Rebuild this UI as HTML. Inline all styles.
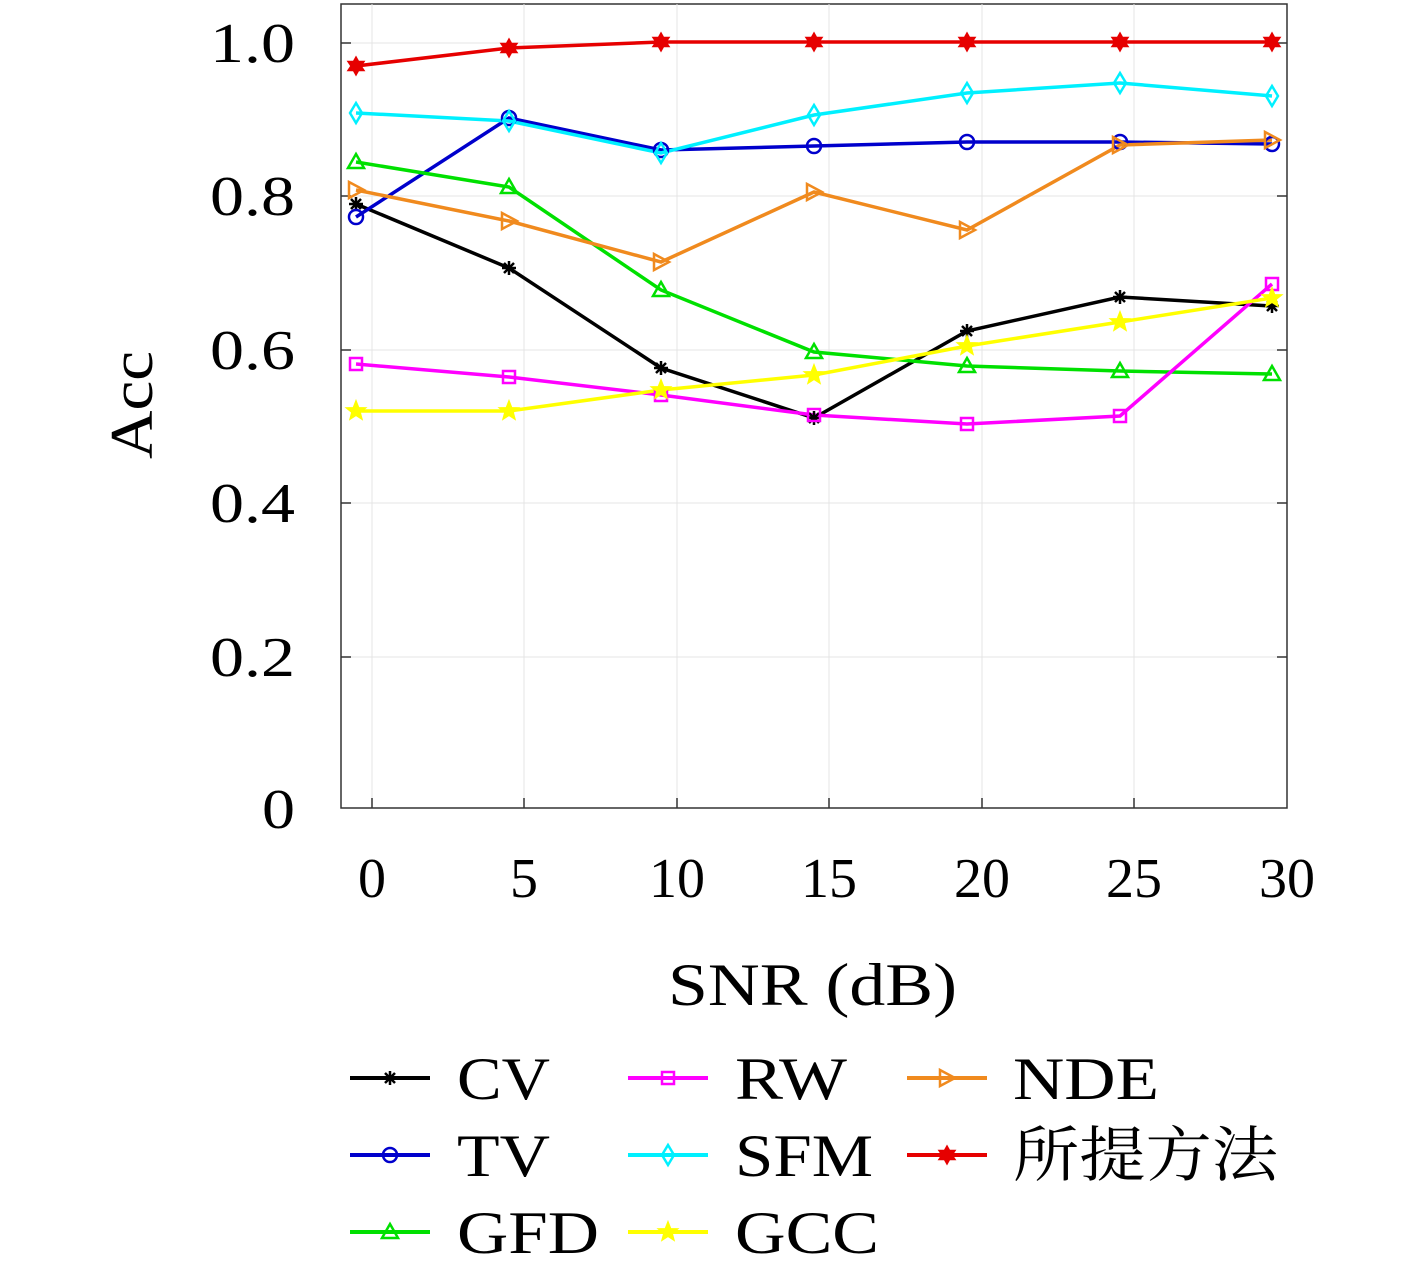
<!DOCTYPE html>
<html><head><meta charset="utf-8"><style>
html,body{margin:0;padding:0;background:#fff}
svg{display:block}
text{font-family:"Liberation Serif","Noto Serif CJK SC",serif;fill:#000}
</style></head><body>
<svg width="1417" height="1275" viewBox="0 0 1417 1275" xmlns="http://www.w3.org/2000/svg">
<defs>
<g id="m-star"><path d="M-7,0H7M0,-7V7M-5,-5L5,5M-5,5L5,-5" stroke-width="2.5"/></g>
<g id="m-circ"><circle r="7" fill="none" stroke-width="2.5"/></g>
<g id="m-tri"><path d="M0,-8L8,6H-8Z" fill="none" stroke-width="2.5"/></g>
<g id="m-sq"><rect x="-6" y="-6" width="12" height="12" fill="none" stroke-width="2.5"/></g>
<g id="m-dia"><path d="M0,-10L6,0L0,10L-6,0Z" fill="none" stroke-width="2.5"/></g>
<g id="m-pent"><path d="M0,-10L2.6,-3.3L9.5,-3.1L4.1,1.3L5.9,8.1L0,4.2L-5.9,8.1L-4.1,1.3L-9.5,-3.1L-2.6,-3.3Z" stroke-width="1.5"/></g>
<g id="m-right"><path d="M-7,-8L8,0L-7,8Z" fill="none" stroke-width="2.5"/></g>
<g id="m-hex"><path d="M0,-9L2.5,-4.5L8,-4.5L5,0L8,4.5L2.5,4.5L0,9L-2.5,4.5L-8,4.5L-5,0L-8,-4.5L-2.5,-4.5Z" stroke-width="1.5"/></g>
</defs>
<rect x="341" y="4" width="946" height="804" fill="#fff" stroke="#333" stroke-width="1.5"/>
<g stroke="#e4e4e4" stroke-width="1">
<line x1="524" y1="4" x2="524" y2="808"/><line x1="677" y1="4" x2="677" y2="808"/><line x1="829" y1="4" x2="829" y2="808"/><line x1="982" y1="4" x2="982" y2="808"/><line x1="1134" y1="4" x2="1134" y2="808"/><line x1="372" y1="4" x2="372" y2="808"/>
<line x1="341" y1="43" x2="1287" y2="43"/><line x1="341" y1="196" x2="1287" y2="196"/><line x1="341" y1="350" x2="1287" y2="350"/><line x1="341" y1="503" x2="1287" y2="503"/><line x1="341" y1="657" x2="1287" y2="657"/>
</g>
<g stroke="#333" stroke-width="1.5">
<line x1="372" y1="808" x2="372" y2="798"/><line x1="524" y1="808" x2="524" y2="798"/><line x1="677" y1="808" x2="677" y2="798"/><line x1="829" y1="808" x2="829" y2="798"/><line x1="982" y1="808" x2="982" y2="798"/><line x1="1134" y1="808" x2="1134" y2="798"/>
<line x1="341" y1="43" x2="351" y2="43"/><line x1="341" y1="196" x2="351" y2="196"/><line x1="341" y1="350" x2="351" y2="350"/><line x1="341" y1="503" x2="351" y2="503"/><line x1="341" y1="657" x2="351" y2="657"/>
<line x1="1287" y1="43" x2="1277" y2="43"/><line x1="1287" y1="196" x2="1277" y2="196"/><line x1="1287" y1="350" x2="1277" y2="350"/><line x1="1287" y1="503" x2="1277" y2="503"/><line x1="1287" y1="657" x2="1277" y2="657"/>
</g>
<g font-size="56" lengthAdjust="spacingAndGlyphs">
<text x="210" y="62" textLength="85" lengthAdjust="spacingAndGlyphs">1.0</text><text x="210" y="215" textLength="85" lengthAdjust="spacingAndGlyphs">0.8</text><text x="210" y="369" textLength="85" lengthAdjust="spacingAndGlyphs">0.6</text><text x="210" y="522" textLength="85" lengthAdjust="spacingAndGlyphs">0.4</text><text x="210" y="676" textLength="85" lengthAdjust="spacingAndGlyphs">0.2</text><text x="262" y="828" textLength="33" lengthAdjust="spacingAndGlyphs">0</text>
</g>
<g font-size="56" text-anchor="middle">
<text x="372" y="897">0</text><text x="524" y="897">5</text><text x="677" y="897">10</text><text x="829" y="897">15</text><text x="982" y="897">20</text><text x="1134" y="897">25</text><text x="1287" y="897">30</text>
</g>
<text x="668" y="1005" font-size="60" textLength="289" lengthAdjust="spacingAndGlyphs">SNR (dB)</text>
<text x="0" y="0" font-size="60" textLength="108" lengthAdjust="spacingAndGlyphs" transform="translate(152,459) rotate(-90)">Acc</text>
<g fill="none" stroke-width="3.5">
<polyline stroke="#000" points="356,204 509,268 661,368 814,418 967,331 1120,297 1272,306"/>
<polyline stroke="#0000cc" points="356,217 509,118 661,150 814,146 967,142 1120,142 1272,144"/>
<polyline stroke="#00e000" points="356,162 509,187 661,290 814,352 967,366 1120,371 1272,374"/>
<polyline stroke="#ff00ff" points="356,364 509,377 661,395 814,415 967,424 1120,416 1272,284"/>
<polyline stroke="#00f0ff" points="356,113 509,121 661,153 814,115 967,93 1120,83 1272,96"/>
<polyline stroke="#ffff00" points="356,411 509,411 661,390 814,375 967,346 1120,322 1272,298"/>
<polyline stroke="#f08a1e" points="356,190 509,221 661,262 814,192 967,230 1120,145 1272,140"/>
<polyline stroke="#e60000" points="356,66 509,48 661,42 814,42 967,42 1120,42 1272,42"/>
</g>
<g stroke="#000" fill="#000"><use href="#m-star" x="356" y="204"/><use href="#m-star" x="509" y="268"/><use href="#m-star" x="661" y="368"/><use href="#m-star" x="814" y="418"/><use href="#m-star" x="967" y="331"/><use href="#m-star" x="1120" y="297"/><use href="#m-star" x="1272" y="306"/></g>
<g stroke="#0000cc"><use href="#m-circ" x="356" y="217"/><use href="#m-circ" x="509" y="118"/><use href="#m-circ" x="661" y="150"/><use href="#m-circ" x="814" y="146"/><use href="#m-circ" x="967" y="142"/><use href="#m-circ" x="1120" y="142"/><use href="#m-circ" x="1272" y="144"/></g>
<g stroke="#00e000"><use href="#m-tri" x="356" y="162"/><use href="#m-tri" x="509" y="187"/><use href="#m-tri" x="661" y="290"/><use href="#m-tri" x="814" y="352"/><use href="#m-tri" x="967" y="366"/><use href="#m-tri" x="1120" y="371"/><use href="#m-tri" x="1272" y="374"/></g>
<g stroke="#ff00ff"><use href="#m-sq" x="356" y="364"/><use href="#m-sq" x="509" y="377"/><use href="#m-sq" x="661" y="395"/><use href="#m-sq" x="814" y="415"/><use href="#m-sq" x="967" y="424"/><use href="#m-sq" x="1120" y="416"/><use href="#m-sq" x="1272" y="284"/></g>
<g stroke="#00f0ff"><use href="#m-dia" x="356" y="113"/><use href="#m-dia" x="509" y="121"/><use href="#m-dia" x="661" y="153"/><use href="#m-dia" x="814" y="115"/><use href="#m-dia" x="967" y="93"/><use href="#m-dia" x="1120" y="83"/><use href="#m-dia" x="1272" y="96"/></g>
<g stroke="#ffff00" fill="#ffff00"><use href="#m-pent" x="356" y="411"/><use href="#m-pent" x="509" y="411"/><use href="#m-pent" x="661" y="390"/><use href="#m-pent" x="814" y="375"/><use href="#m-pent" x="967" y="346"/><use href="#m-pent" x="1120" y="322"/><use href="#m-pent" x="1272" y="298"/></g>
<g stroke="#f08a1e"><use href="#m-right" x="356" y="190"/><use href="#m-right" x="509" y="221"/><use href="#m-right" x="661" y="262"/><use href="#m-right" x="814" y="192"/><use href="#m-right" x="967" y="230"/><use href="#m-right" x="1120" y="145"/><use href="#m-right" x="1272" y="140"/></g>
<g stroke="#e60000" fill="#e60000"><use href="#m-hex" x="356" y="66"/><use href="#m-hex" x="509" y="48"/><use href="#m-hex" x="661" y="42"/><use href="#m-hex" x="814" y="42"/><use href="#m-hex" x="967" y="42"/><use href="#m-hex" x="1120" y="42"/><use href="#m-hex" x="1272" y="42"/></g>
<!-- legend -->
<g stroke-width="4">
<line x1="350" y1="1078" x2="430" y2="1078" stroke="#000"/><use href="#m-star" x="390" y="1078" stroke="#000"/>
<line x1="350" y1="1155" x2="430" y2="1155" stroke="#0000cc"/><use href="#m-circ" x="390" y="1155" stroke="#0000cc"/>
<line x1="350" y1="1232" x2="430" y2="1232" stroke="#00e000"/><use href="#m-tri" x="390" y="1232" stroke="#00e000"/>
<line x1="628" y1="1078" x2="708" y2="1078" stroke="#ff00ff"/><use href="#m-sq" x="668" y="1078" stroke="#ff00ff"/>
<line x1="628" y1="1155" x2="708" y2="1155" stroke="#00f0ff"/><use href="#m-dia" x="668" y="1155" stroke="#00f0ff"/>
<line x1="628" y1="1232" x2="708" y2="1232" stroke="#ffff00"/><use href="#m-pent" x="668" y="1232" stroke="#ffff00" fill="#ffff00"/>
<line x1="907" y1="1078" x2="987" y2="1078" stroke="#f08a1e"/><use href="#m-right" x="947" y="1078" stroke="#f08a1e"/>
<line x1="907" y1="1155" x2="987" y2="1155" stroke="#e60000"/><use href="#m-hex" x="947" y="1155" stroke="#e60000" fill="#e60000"/>
</g>
<g font-size="60">
<text x="457" y="1099" textLength="93" lengthAdjust="spacingAndGlyphs">CV</text><text x="457" y="1176" textLength="93" lengthAdjust="spacingAndGlyphs">TV</text><text x="457" y="1253" textLength="142" lengthAdjust="spacingAndGlyphs">GFD</text>
<text x="735" y="1099" textLength="112" lengthAdjust="spacingAndGlyphs">RW</text><text x="735" y="1176" textLength="138" lengthAdjust="spacingAndGlyphs">SFM</text><text x="735" y="1253" textLength="144" lengthAdjust="spacingAndGlyphs">GCC</text>
<text x="1013" y="1099" textLength="146" lengthAdjust="spacingAndGlyphs">NDE</text><text x="1013" y="1176" textLength="265" lengthAdjust="spacingAndGlyphs">所提方法</text>
</g>
</svg>
</body></html>
